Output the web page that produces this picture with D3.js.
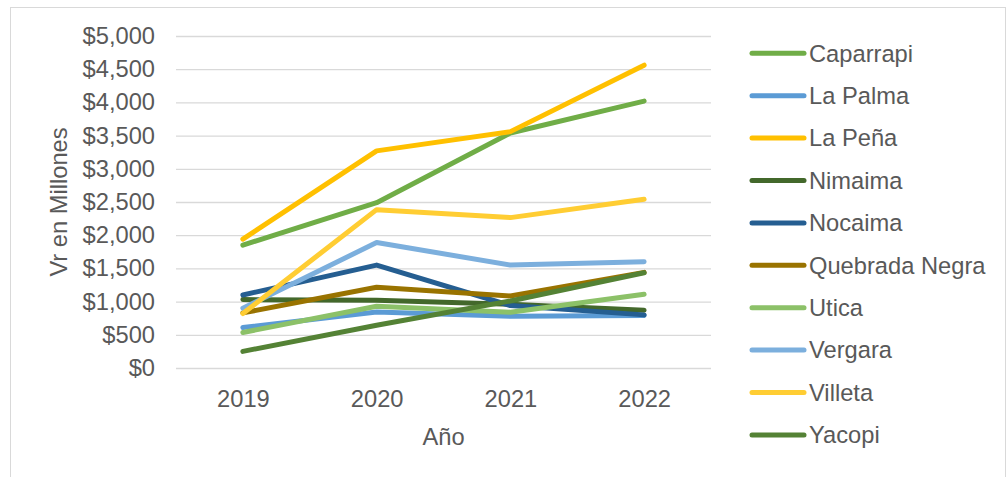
<!DOCTYPE html>
<html>
<head>
<meta charset="utf-8">
<script src="https://cdn.jsdelivr.net/npm/d3@7"></script>
<style>
  body { margin: 0; background: #fff; }
  text { font-family: 'Liberation Sans', Arial, sans-serif; fill: #595959; }
</style>
</head>
<body>
<svg class="chart"></svg>
<script>
// values (millions)
var years = ['2019', '2020', '2021', '2022'];
var municipios = ['Caparrapi', 'La Palma', 'La Peña', 'Nimaima', 'Nocaima', 'Quebrada Negra', 'Utica', 'Vergara', 'Villeta', 'Yacopi'];

var caparrapi     = [1850, 2490, 3540, 4020];
var laPalma       = [610, 845, 780, 790];
var laPena        = [1940, 3270, 3560, 4560];
var nimaima       = [1030, 1020, 960, 870];
var nocaima       = [1100, 1550, 940, 800];
var quebradaNegra = [830, 1215, 1085, 1440];
var utica         = [535, 930, 840, 1110];
var vergara       = [900, 1890, 1550, 1600];
var villeta       = [820, 2385, 2265, 2540];
var yacopi        = [250, 645, 1010, 1435];

var yTicks = [0, 500, 1000, 1500, 2000, 2500, 3000, 3500, 4000, 4500, 5000];

var colors = ['#70ad47', '#5b9bd5', '#ffc000', '#43682b', '#255e91', '#997300', '#8cc168', '#7cafdd', '#ffcd33', '#548235'];

var series = [caparrapi, laPalma, laPena, nimaima, nocaima, quebradaNegra, utica, vergara, villeta, yacopi]
  .map(function(v, i) { return {name: municipios[i], values: v, color: colors[i]}; });

var W = 1006, H = 477;
var plot = {left: 176, right: 711, top: 36, bottom: 368};
var fs = '23.7px';

var chart = d3.select('.chart')
  .attr('width', W)
  .attr('height', H);

// outer frame
chart.append('rect')
  .attr('x', 10.5).attr('y', 7.5)
  .attr('width', 995).attr('height', 490)
  .attr('fill', 'none')
  .attr('stroke', '#d9d9d9')
  .attr('stroke-width', 1);

var x = d3.scalePoint().domain(years).range([plot.left, plot.right]).padding(0.5),
    y = d3.scaleLinear().domain([0, 5000]).range([plot.bottom, plot.top]);

// gridlines
chart.append('g')
    .attr('transform', 'translate(' + plot.left + ',0)')
    .call(d3.axisLeft(y).tickValues(yTicks).tickSize(-(plot.right - plot.left)).tickFormat(''))
    .call(function(g) { g.select('.domain').remove(); })
    .selectAll('line')
    .attr('stroke', '#d9d9d9')
    .attr('stroke-width', 1.3);

// y labels
chart.append('g')
    .attr('transform', 'translate(' + plot.left + ',0)')
    .call(d3.axisLeft(y).tickValues(yTicks).tickSize(0).tickPadding(21)
      .tickFormat(function(d) { return '$' + d3.format(',')(d); }))
    .call(function(g) { g.select('.domain').remove(); })
    .selectAll('text')
    .attr('font-size', fs)
    .style('font-family', null);

// x labels
chart.append('g')
    .attr('transform', 'translate(0,' + plot.bottom + ')')
    .call(d3.axisBottom(x).tickSize(0).tickPadding(22))
    .call(function(g) { g.select('.domain').remove(); })
    .selectAll('text')
    .attr('font-size', fs)
    .style('font-family', null);

// axis titles
chart.append('text')
  .attr('x', (plot.left + plot.right) / 2)
  .attr('y', 445)
  .attr('text-anchor', 'middle')
  .attr('font-size', fs)
  .text('Año');

chart.append('text')
  .attr('transform', 'translate(67,' + ((plot.top + plot.bottom) / 2) + ') rotate(-90)')
  .attr('text-anchor', 'middle')
  .attr('font-size', fs)
  .text('Vr en Millones');

var line = d3.line()
  .x(function(d, i) { return x(years[i]); })
  .y(function(d) { return y(d); });

chart.append('g').selectAll('path')
    .data(series)
  .enter().append('path')
    .attr('d', function(d) { return line(d.values); })
    .attr('fill', 'none')
    .attr('stroke', function(d) { return d.color; })
    .attr('stroke-width', 5)
    .attr('stroke-linecap', 'round')
    .attr('stroke-linejoin', 'round');

// legend
var legend = chart.append('g').selectAll('g')
    .data(series)
  .enter().append('g')
    .attr('transform', function(d, i) { return 'translate(0,' + (53.3 + i * 42.4) + ')'; });

legend.append('line')
  .attr('x1', 752).attr('x2', 804)
  .attr('stroke', function(d) { return d.color; })
  .attr('stroke-width', 5)
  .attr('stroke-linecap', 'round');

legend.append('text')
  .attr('x', 809)
  .attr('dy', '0.35em')
  .attr('font-size', fs)
  .text(function(d) { return d.name; });
</script>
</body>
</html>
